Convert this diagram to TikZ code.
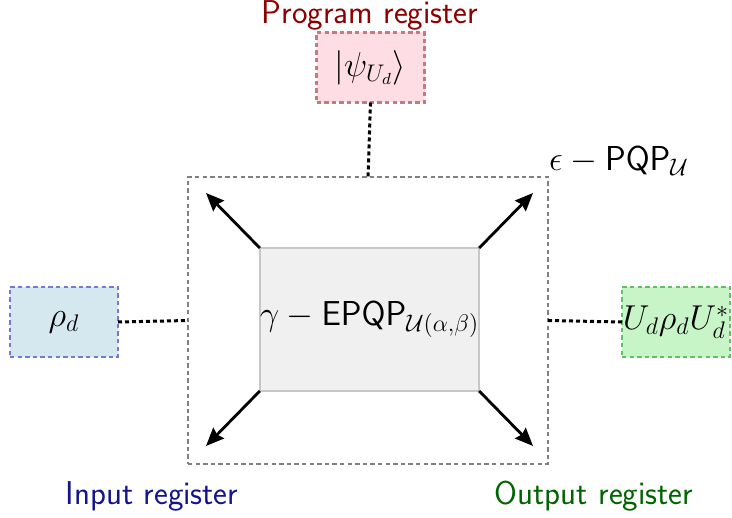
\documentclass[tikz,border=0pt]{standalone}
\usetikzlibrary{arrows.meta}
\begin{document}
\begin{tikzpicture}[x=0.5pt,y=-0.5pt,
  every node/.style={font=\fontsize{16.5}{19.5}\selectfont\sffamily},
  regbox/.style={draw, line width=1.3pt, dash pattern=on 2.2pt off 1.6pt, inner sep=0pt, outer sep=0pt, minimum width=54pt, minimum height=35pt},
  outerbox/.style={draw=gray, line width=1.4pt, dash pattern=on 2.2pt off 1.6pt, inner sep=0pt, outer sep=0pt, minimum width=180pt, minimum height=143.5pt},
  innerbox/.style={draw=black!22, fill=black!6, line width=1pt, inner sep=0pt, outer sep=0pt, minimum width=107.5pt, minimum height=71.5pt},
  link/.style={line width=1.5pt, dash pattern=on 2pt off 1.5pt},
  outarrow/.style={line width=1.4pt, -{Stealth[length=9pt,width=7.5pt,inset=1pt]}}
]
\useasboundingbox (0,0) rectangle (732,518);
\definecolor{pinkfill}{RGB}{255,221,228}
\definecolor{pinkline}{RGB}{200,120,130}
\definecolor{bluefill}{RGB}{213,232,240}
\definecolor{blueline}{RGB}{120,120,205}
\definecolor{greenfill}{RGB}{200,245,200}
\definecolor{greenline}{RGB}{100,190,100}
\definecolor{progred}{RGB}{139,0,0}
\definecolor{inblue}{RGB}{20,20,140}
\definecolor{outgreen}{RGB}{0,100,0}

\node[outerbox] (outer) at (368,320.5) {};
\node[innerbox] (inner) at (369.5,319.5) {$\gamma-\mathsf{EPQP}_{\mathcal{U}(\alpha,\beta)}$};

\node[regbox, draw=pinkline, fill=pinkfill] (prog) at (370.5,67.5) {$|\psi_{U_d}\rangle$};
\node[regbox, draw=blueline, fill=bluefill] (inp) at (64,322) {$\rho_d$};
\node[regbox, draw=greenline, fill=greenfill] (outp) at (676,322) {$U_d\rho_dU_d^*$};

\node[text=progred, inner sep=0pt] (proglabel) at (370,15) {Program register};
\node[text=inblue] (inlabel) at (152,496) {Input register};
\node[text=outgreen] (outlabel) at (594,496) {Output register};
\node (eps) at (619,161) {$\epsilon-\mathsf{PQP}_{\mathcal{U}}$};

\draw[link] (prog.south) -- (outer.north);
\draw[link] (inp.east) -- (outer.west);
\draw[link] (outer.east) -- (outp.west);

\coordinate (tl) at (206,193);
\coordinate (tr) at (533,193);
\coordinate (bl) at (206,446);
\coordinate (br) at (533,446);
\draw[outarrow] (inner.north west) -- (tl);
\draw[outarrow] (inner.north east) -- (tr);
\draw[outarrow] (inner.south west) -- (bl);
\draw[outarrow] (inner.south east) -- (br);
\end{tikzpicture}
\end{document}
